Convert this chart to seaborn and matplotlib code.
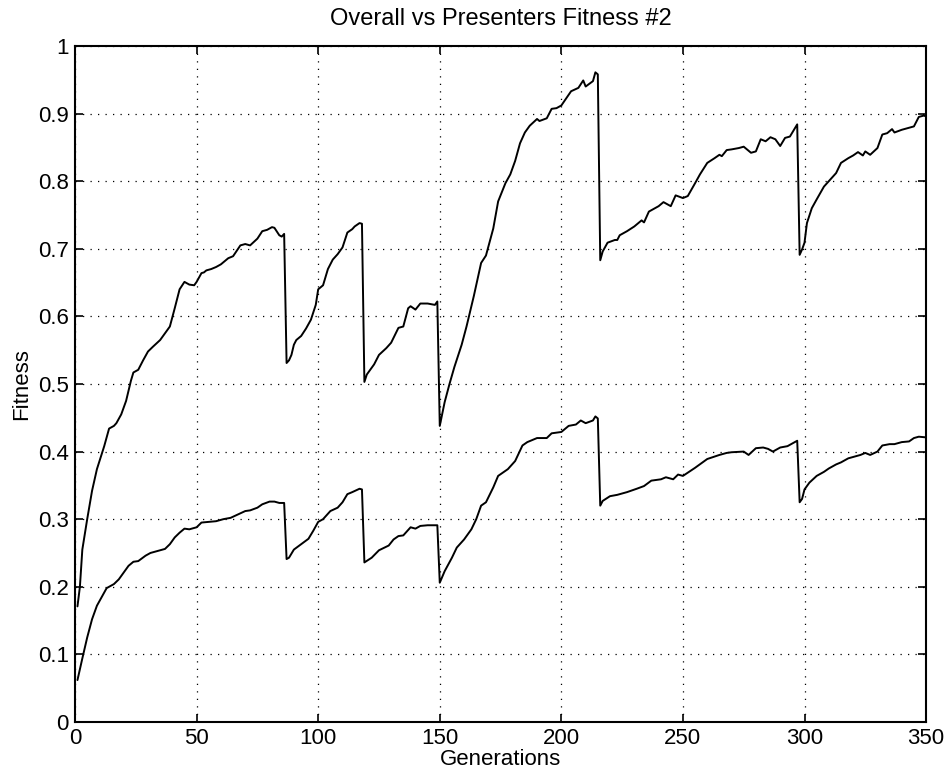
import numpy as np
import pandas as pd
import matplotlib
matplotlib.use("Agg")
import matplotlib.pyplot as plt
import seaborn as sns

gens_overall = [1, 2, 3, 5, 7, 9, 12, 14, 16, 17, 19, 21, 23, 24, 26, 28, 30, 32, 35, 38, 39, 41, 43, 45, 47, 49, 50,
                52, 53, 54, 56, 58, 60, 63, 65, 68, 70, 72, 75, 77, 79, 81, 82, 84, 85, 86, 87, 88, 89, 90, 91, 93, 95,
                97, 99, 100, 102, 104, 106, 108, 110, 112, 114, 115, 117, 118, 119, 120, 123, 125, 128, 130, 133, 135,
                137, 138, 140, 142, 145, 148, 149, 150, 152, 154, 156, 159, 161, 164, 167, 169, 172, 174, 177, 179,
                181, 183, 185, 187, 190, 191, 194, 196, 198, 200, 204, 207, 209, 210, 213, 214, 215, 216, 217, 219,
                222, 223, 224, 227, 230, 233, 234, 236, 240, 242, 245, 247, 250, 252, 255, 257, 260, 263, 265, 266,
                268, 270, 273, 275, 278, 280, 282, 284, 286, 288, 290, 292, 294, 297, 298, 299, 300, 301, 303, 305,
                308, 310, 313, 315, 318, 320, 322, 324, 325, 327, 330, 332, 334, 336, 337, 340, 343, 345, 347, 349, 350]
overall = [0.171, 0.200, 0.255, 0.300, 0.342, 0.374, 0.408, 0.434, 0.438, 0.442, 0.455, 0.475, 0.505, 0.517, 0.521,
           0.535, 0.548, 0.555, 0.565, 0.580, 0.585, 0.612, 0.640, 0.651, 0.647, 0.646, 0.651, 0.664, 0.665, 0.668,
           0.670, 0.673, 0.677, 0.686, 0.689, 0.705, 0.707, 0.705, 0.715, 0.726, 0.728, 0.732, 0.731, 0.720, 0.718,
           0.722, 0.531, 0.535, 0.543, 0.558, 0.565, 0.571, 0.582, 0.595, 0.617, 0.640, 0.646, 0.670, 0.684, 0.692,
           0.702, 0.724, 0.729, 0.733, 0.738, 0.737, 0.503, 0.514, 0.529, 0.543, 0.553, 0.561, 0.583, 0.585, 0.612,
           0.615, 0.610, 0.619, 0.619, 0.617, 0.622, 0.438, 0.473, 0.500, 0.525, 0.558, 0.585, 0.630, 0.679, 0.690,
           0.730, 0.770, 0.797, 0.810, 0.830, 0.856, 0.872, 0.882, 0.892, 0.889, 0.893, 0.907, 0.908, 0.912, 0.933,
           0.938, 0.949, 0.940, 0.948, 0.961, 0.958, 0.683, 0.696, 0.709, 0.713, 0.713, 0.720, 0.726, 0.733, 0.742,
           0.739, 0.755, 0.763, 0.769, 0.763, 0.779, 0.775, 0.778, 0.797, 0.810, 0.827, 0.834, 0.839, 0.837, 0.846,
           0.847, 0.849, 0.851, 0.842, 0.844, 0.862, 0.859, 0.865, 0.862, 0.852, 0.864, 0.866, 0.884, 0.691, 0.699,
           0.709, 0.738, 0.760, 0.773, 0.792, 0.800, 0.812, 0.827, 0.834, 0.838, 0.843, 0.838, 0.844, 0.839, 0.849,
           0.869, 0.871, 0.877, 0.872, 0.876, 0.879, 0.881, 0.895, 0.897, 0.896]

gens_presenters = [1, 3, 5, 7, 9, 11, 13, 14, 16, 18, 20, 22, 24, 26, 29, 31, 34, 37, 39, 41, 43, 45, 47, 50, 52, 55,
                   58, 61, 64, 67, 70, 72, 75, 77, 80, 82, 84, 86, 87, 88, 90, 93, 96, 98, 100, 102, 105, 108, 110,
                   112, 114, 117, 118, 119, 122, 125, 129, 131, 133, 135, 138, 140, 142, 145, 149, 150, 152, 155, 157,
                   160, 163, 165, 167, 169, 172, 174, 178, 181, 184, 186, 190, 194, 196, 200, 203, 206, 208, 210, 213,
                   214, 215, 216, 217, 220, 223, 227, 231, 234, 237, 241, 243, 246, 248, 250, 255, 260, 265, 268, 270,
                   275, 277, 280, 283, 285, 287, 290, 293, 296, 297, 298, 299, 300, 302, 305, 308, 310, 313, 315, 318,
                   320, 323, 325, 327, 330, 332, 335, 337, 340, 343, 345, 347, 350]
presenters = [0.062, 0.094, 0.125, 0.152, 0.172, 0.185, 0.198, 0.200, 0.204, 0.211, 0.221, 0.231, 0.237, 0.238,
              0.246, 0.250, 0.253, 0.256, 0.263, 0.273, 0.280, 0.286, 0.285, 0.288, 0.295, 0.296, 0.297, 0.300,
              0.302, 0.307, 0.312, 0.313, 0.317, 0.322, 0.326, 0.326, 0.324, 0.324, 0.241, 0.243, 0.255, 0.263,
              0.271, 0.283, 0.296, 0.300, 0.312, 0.317, 0.325, 0.337, 0.340, 0.345, 0.344, 0.236, 0.243, 0.254,
              0.261, 0.270, 0.275, 0.276, 0.288, 0.286, 0.290, 0.291, 0.291, 0.206, 0.223, 0.243, 0.258, 0.270,
              0.285, 0.300, 0.320, 0.325, 0.347, 0.364, 0.374, 0.386, 0.409, 0.414, 0.420, 0.420, 0.427, 0.429,
              0.438, 0.440, 0.446, 0.442, 0.446, 0.452, 0.449, 0.320, 0.327, 0.334, 0.336, 0.340, 0.345, 0.349,
              0.357, 0.359, 0.362, 0.359, 0.366, 0.364, 0.376, 0.389, 0.395, 0.398, 0.399, 0.400, 0.395, 0.405,
              0.406, 0.404, 0.400, 0.406, 0.408, 0.414, 0.416, 0.325, 0.330, 0.344, 0.354, 0.364, 0.370, 0.375,
              0.381, 0.384, 0.390, 0.392, 0.395, 0.398, 0.395, 0.400, 0.409, 0.411, 0.411, 0.414, 0.415, 0.420,
              0.422, 0.421]

x_ticks = [0, 50, 100, 150, 200, 250, 300, 350]
y_ticks = [0, 0.1, 0.2, 0.3, 0.4, 0.5, 0.6, 0.7, 0.8, 0.9, 1]
y_tick_labels = ["0", "0.1", "0.2", "0.3", "0.4", "0.5", "0.6", "0.7", "0.8", "0.9", "1"]

sns.set_theme(style="white")
plt.rcParams['font.family'] = ['Liberation Sans', 'DejaVu Sans']

df_o = pd.DataFrame({"Generations": gens_overall, "Fitness": overall})
df_p = pd.DataFrame({"Generations": gens_presenters, "Fitness": presenters})

fig = plt.figure(figsize=(9.51, 7.79), dpi=100)
ax = fig.add_axes([0.0789, 0.0732, 0.8949, 0.8678])

sns.lineplot(data=df_o, x="Generations", y="Fitness", color="black", linewidth=1.4, ax=ax)
sns.lineplot(data=df_p, x="Generations", y="Fitness", color="black", linewidth=1.4, ax=ax)

ax.set_xlim(0, 350)
ax.set_ylim(0, 1)
ax.set_xticks(x_ticks)
ax.set_xticklabels([str(t) for t in x_ticks])
ax.set_yticks(y_ticks)
ax.set_yticklabels(y_tick_labels)
ax.grid(True, color="black", linestyle=(0, (1, 5)), linewidth=0.9)
ax.tick_params(direction="in", length=6, width=1.2, top=True, right=True, bottom=True, left=True,
               labelsize=16, colors="black", pad=4.5)
for s in ax.spines.values():
    s.set_color("black")
    s.set_linewidth(1.5)
    s.set_visible(True)
ax.set_xlabel("Generations", fontsize=16, color="black", labelpad=0)
ax.set_ylabel("Fitness", fontsize=16, color="black", labelpad=4)
ax.set_title("Overall vs Presenters Fitness #2", fontsize=17, color="black", pad=15)

fig.savefig("out.png", dpi=100, facecolor="white")
